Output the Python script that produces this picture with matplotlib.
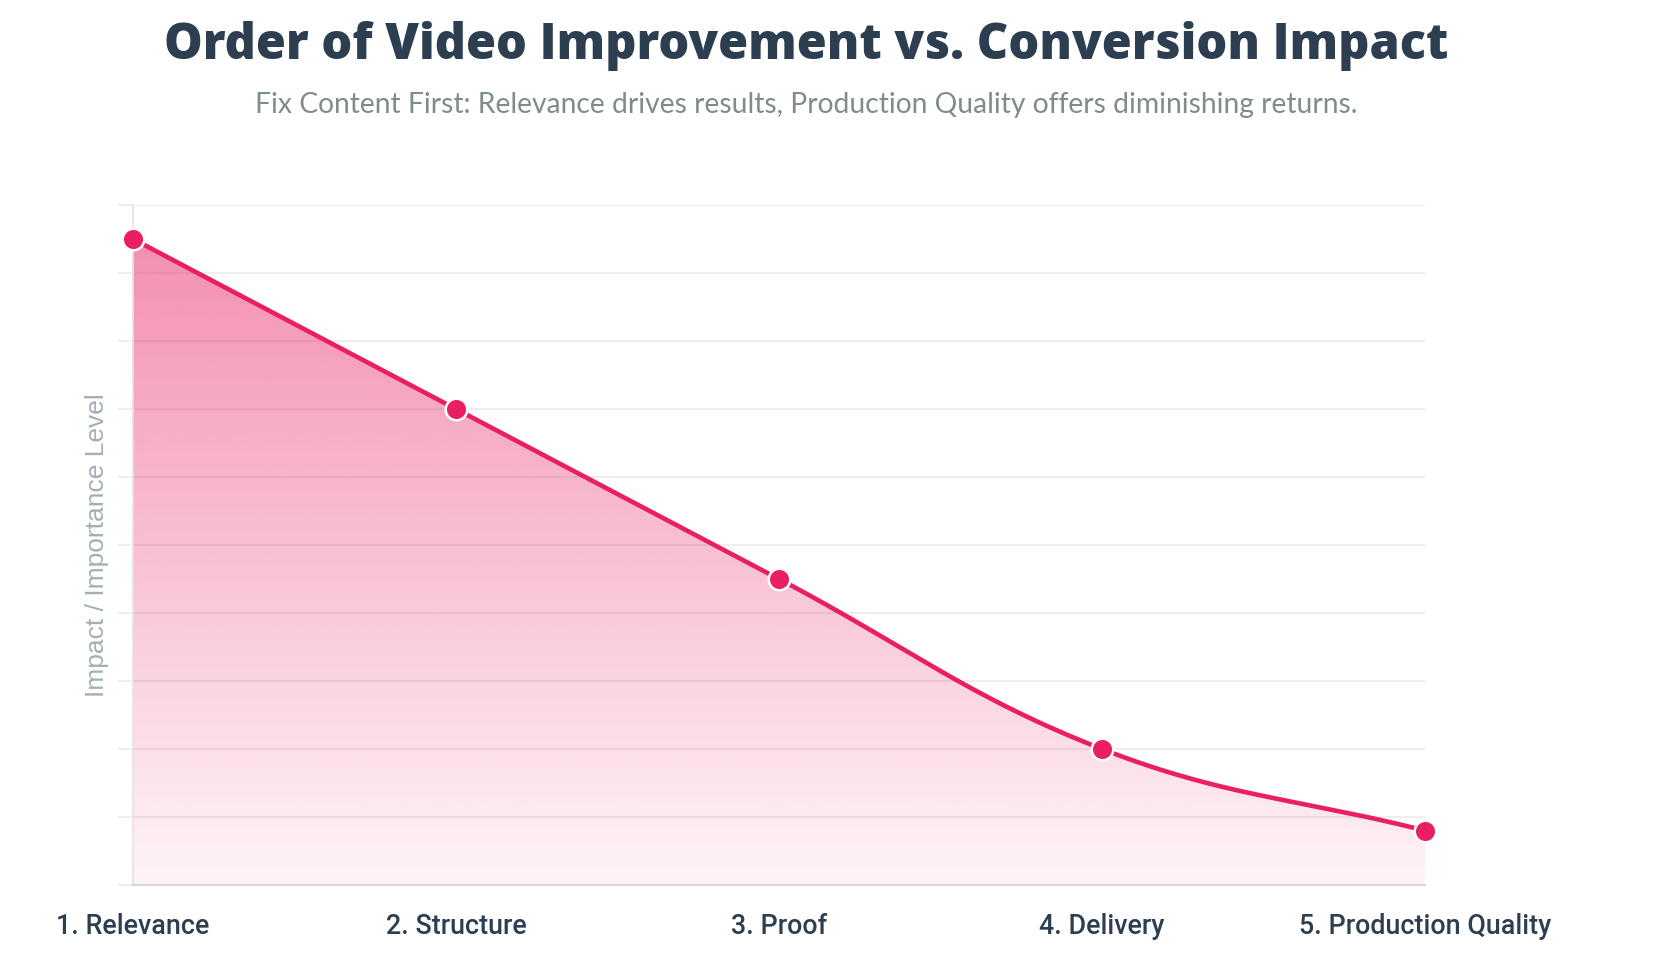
import numpy as np
import matplotlib
matplotlib.use('Agg')
import matplotlib.pyplot as plt
from matplotlib.path import Path
from matplotlib.patches import PathPatch

# Datos del grafico
steps = ['1. Relevance', '2. Structure', '3. Proof', '4. Delivery', '5. Production Quality']
impact = [9.5, 7.0, 4.5, 2.0, 0.8]

title = 'Order of Video Improvement vs. Conversion Impact'
subtitle = 'Fix Content First: Relevance drives results, Production Quality offers diminishing returns.'
ylabel = 'Impact / Importance Level'

PINK = '#E91E63'
GRID = '#ebebeb'


# curva suavizada tipo Chart.js (tension 0.4), en pixeles
def spline_path(px, py, t=0.4):
    n = len(px)
    c_prev = []
    c_next = []
    for i in range(n):
        x0, y0 = (px[i - 1], py[i - 1]) if i > 0 else (px[i], py[i])
        x1, y1 = px[i], py[i]
        x2, y2 = (px[i + 1], py[i + 1]) if i < n - 1 else (px[i], py[i])
        d01 = np.hypot(x1 - x0, y1 - y0)
        d12 = np.hypot(x2 - x1, y2 - y1)
        s01 = d01 / (d01 + d12) if d01 + d12 else 0
        s12 = d12 / (d01 + d12) if d01 + d12 else 0
        fa = t * s01
        fb = t * s12
        c_prev.append((x1 - fa * (x2 - x0), y1 - fa * (y2 - y0)))
        c_next.append((x1 + fb * (x2 - x0), y1 + fb * (y2 - y0)))
    pts = []
    for i in range(n - 1):
        p0 = np.array([px[i], py[i]])
        p1 = np.array(c_next[i])
        p2 = np.array(c_prev[i + 1])
        p3 = np.array([px[i + 1], py[i + 1]])
        for s in np.linspace(0, 1, 60)[:-1] if i < n - 2 else np.linspace(0, 1, 60):
            pts.append((1 - s) ** 3 * p0 + 3 * (1 - s) ** 2 * s * p1 + 3 * (1 - s) * s ** 2 * p2 + s ** 3 * p3)
    return np.array(pts)


fig = plt.figure(figsize=(16.58, 9.64), dpi=100)
ax = fig.add_axes([133 / 1658, 1 - 885 / 964, (1425 - 133) / 1658, (885 - 205) / 964])

x = np.arange(len(steps))
ax.set_xlim(0, len(steps) - 1)
ax.set_ylim(0, 10)

# pasar a pixeles para calcular la curva y volver a datos
disp = ax.transData.transform(np.column_stack([x, impact]))
curve_disp = spline_path(disp[:, 0], disp[:, 1])
curve = ax.transData.inverted().transform(curve_disp)

# relleno con degradado
poly = np.vstack([curve, [[x[-1], 0], [x[0], 0]]])
clip = PathPatch(Path(poly), facecolor='none', edgecolor='none')
ax.add_patch(clip)
alpha = np.linspace(0.05, 0.52, 256)[:, None]
grad = np.zeros((256, 1, 4))
grad[..., 0] = 233 / 255
grad[..., 1] = 30 / 255
grad[..., 2] = 99 / 255
grad[..., 3] = alpha
im = ax.imshow(grad, extent=[0, len(steps) - 1, 0, 10], origin='lower', aspect='auto', zorder=1)
im.set_clip_path(clip)

ax.plot(curve[:, 0], curve[:, 1], color=PINK, lw=3.3, zorder=3, solid_capstyle='round')
ax.plot(x, impact, 'o', color=PINK, markersize=15.5, markeredgecolor='white',
        markeredgewidth=1.8, zorder=4, clip_on=False)

# ejes y grilla
ax.set_yticks(np.arange(0, 11, 1))
ax.yaxis.grid(True, color=GRID, lw=1.2, zorder=0)
ax.set_axisbelow(True)
ax.tick_params(axis='y', length=11, color=GRID, width=1.2, labelleft=False)
ax.set_xticks(x)
ax.set_xticklabels(steps, fontsize=19.4, color='#2c3e50', family='Roboto', fontweight='medium')
ax.tick_params(axis='x', length=0, pad=20)
for s in ['top', 'right']:
    ax.spines[s].set_visible(False)
ax.spines['left'].set_color('#e3e3e3')
ax.spines['left'].set_linewidth(1.2)
ax.spines['bottom'].set_color('#d6d6d6')
ax.spines['bottom'].set_linewidth(1.5)

ax.set_ylabel(ylabel, fontsize=19, color='#a3b0b1', family='Liberation Sans', labelpad=6)

fig.text(806 / 1658, 1 - 46 / 964, title, ha='center', va='center', fontsize=35,
         fontweight='heavy', family='Open Sans', color='#2c3e50')
fig.text(806 / 1658, 1 - 105 / 964, subtitle, ha='center', va='center', fontsize=20.3,
         family='Lato', color='#7f8c8d')

fig.savefig('out.png', dpi=100, facecolor='white')
